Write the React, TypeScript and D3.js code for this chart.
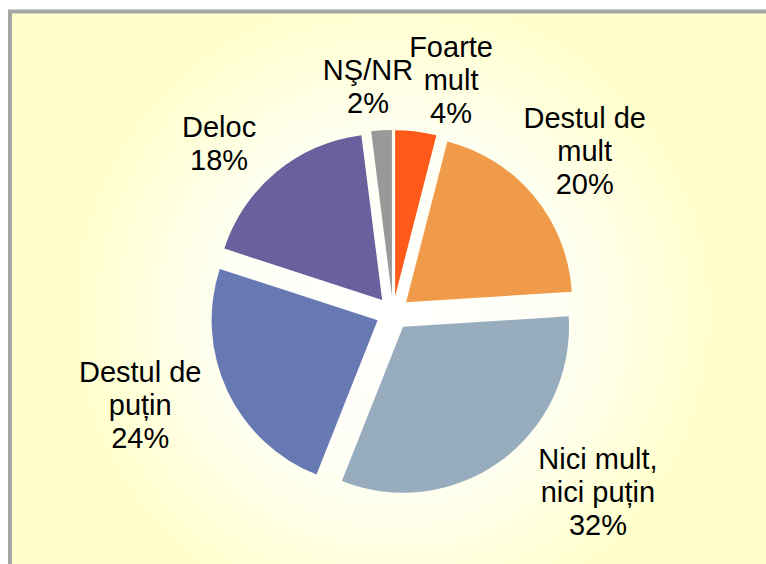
import React, { useEffect, useRef } from 'react';
import * as d3 from 'd3';

const categories = ['Foarte\nmult', 'Destul de\nmult', 'Nici mult,\nnici puțin', 'Destul de\npuțin', 'Deloc', 'NŞ/NR'];
const values = [4, 20, 32, 24, 18, 2];
const colors = ['#FF5A19', '#EF9B4A', '#97ADBE', '#6779B3', '#6C5F9D', '#999999'];
// label placement: angle shift from the slice bisector (degrees) and distance from pie centre
const labelShift = [6.8, -0.6, -12.9, 5.2, -6.1, -2.7];
const labelDist = [240, 251, 272, 269, 243, 228];

export default function App() {
  const svgRef = useRef<SVGSVGElement>(null);

  useEffect(() => {
    const width = 766;
    const height = 564;
    const cx = 393;
    const cy = 313;
    const radius = 166;
    const explode = 17;

    const svg = d3.select(svgRef.current);
    svg.selectAll('*').remove();

    const defs = svg.append('defs');
    const grad = defs.append('radialGradient')
      .attr('id', 'bg')
      .attr('gradientUnits', 'userSpaceOnUse')
      .attr('cx', cx).attr('cy', cy).attr('r', 380);
    grad.append('stop').attr('offset', 0).attr('stop-color', '#FFFFFF');
    grad.append('stop').attr('offset', 0.42).attr('stop-color', '#FFFFF6');
    grad.append('stop').attr('offset', 0.85).attr('stop-color', '#FFFFCC');

    svg.append('rect')
      .attr('x', 10).attr('y', 11.5)
      .attr('width', width + 20).attr('height', height + 20)
      .attr('fill', 'url(#bg)')
      .attr('stroke', '#A6A6A6')
      .attr('stroke-width', 4);

    const pie = d3.pie<number>().sort(null).value(d => d);
    const arcs = pie(values);
    const arc = d3.arc<d3.PieArcDatum<number>>().innerRadius(0).outerRadius(radius);

    const g = svg.append('g').attr('transform', `translate(${cx},${cy})`);

    g.selectAll('path')
      .data(arcs)
      .join('path')
      .attr('d', arc)
      .attr('fill', (d, i) => colors[i])
      .attr('transform', d => {
        const a = (d.startAngle + d.endAngle) / 2;
        return `translate(${Math.sin(a) * explode},${-Math.cos(a) * explode})`;
      });

    const lab = g.selectAll('g.lab')
      .data(arcs)
      .join('g')
      .attr('class', 'lab')
      .attr('transform', (d, i) => {
        const a = (d.startAngle + d.endAngle) / 2 + labelShift[i] * Math.PI / 180;
        return `translate(${Math.sin(a) * labelDist[i]},${-Math.cos(a) * labelDist[i]})`;
      });

    lab.each(function (d, i) {
      const lines = categories[i].split('\n').concat([`${values[i]}%`]);
      const t = d3.select(this).append('text')
        .attr('text-anchor', 'middle')
        .attr('font-family', '"Liberation Sans", Arial, sans-serif')
        .attr('font-size', 29)
        .attr('fill', '#000');
      const lh = 33;
      const y0 = -((lines.length - 1) * lh) / 2 + 10;
      lines.forEach((l, k) => {
        t.append('tspan').attr('x', 0).attr('y', y0 + k * lh).text(l);
      });
    });
  }, []);

  return (
    <svg ref={svgRef} width={766} height={564}
      style={{ position: 'absolute', left: 0, top: 0, display: 'block', background: '#fff' }} />
  );
}
